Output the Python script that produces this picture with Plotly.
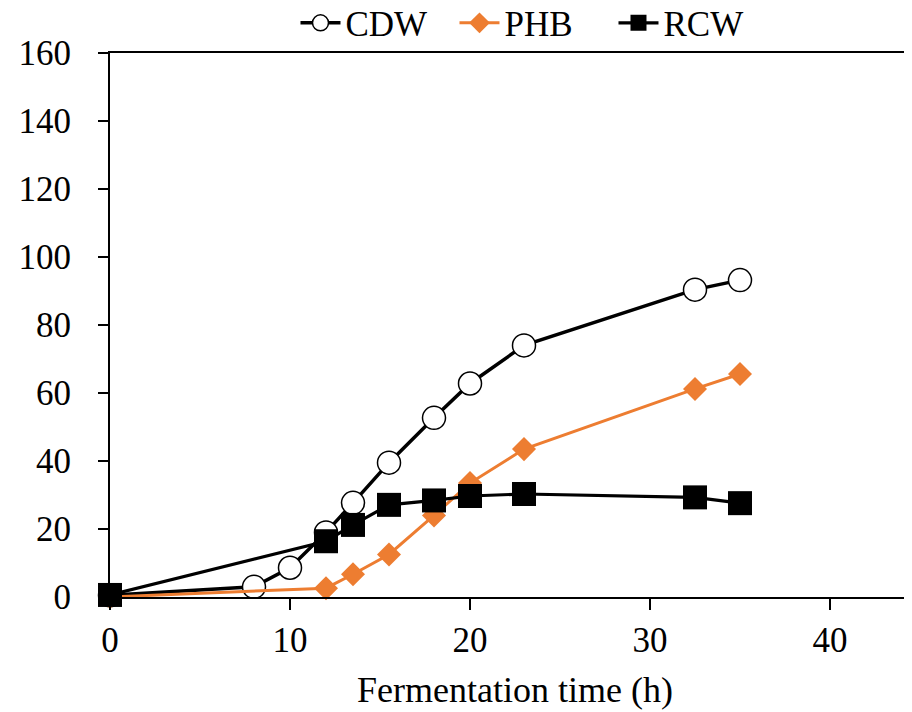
import plotly.graph_objects as go

time_cdw = [0, 8, 10, 12, 13.5, 15.5, 18, 20, 23, 32.5, 35]
cdw = [0.5, 3.0, 8.6, 19.0, 27.7, 39.5, 52.7, 62.8, 74.0, 90.4, 93.2]

time_phb = [0, 12, 13.5, 15.5, 18, 20, 23, 32.5, 35]
phb = [0.0, 2.6, 6.7, 12.5, 24.0, 33.5, 43.5, 61.2, 65.6]

time_rcw = [0, 12, 13.5, 15.5, 18, 20, 23, 32.5, 35]
rcw = [0.6, 16.4, 21.2, 27.1, 28.4, 29.7, 30.3, 29.3, 27.6]

x_ticks = [0, 10, 20, 30, 40]
y_ticks = [0, 20, 40, 60, 80, 100, 120, 140, 160]

ORANGE = "#ED7D31"
FONT = "Liberation Serif"

fig = go.Figure()
fig.add_trace(go.Scatter(
    x=time_cdw, y=cdw, name="CDW", mode="lines+markers",
    line=dict(color="black", width=3.5),
    marker=dict(symbol="circle", size=23, color="white", line=dict(color="black", width=1.5)),
    cliponaxis=False,
))
fig.add_trace(go.Scatter(
    x=time_phb, y=phb, name="PHB", mode="lines+markers",
    line=dict(color=ORANGE, width=3),
    marker=dict(symbol="diamond", size=18.5, color=ORANGE, line=dict(width=0)),
    cliponaxis=False,
))
fig.add_trace(go.Scatter(
    x=time_rcw, y=rcw, name="RCW", mode="lines+markers",
    line=dict(color="black", width=3.2),
    marker=dict(symbol="square", size=24, color="black", line=dict(width=0)),
    cliponaxis=False,
))

fig.update_layout(
    width=912, height=712,
    margin=dict(l=102, r=0, t=45, b=123, autoexpand=False),
    paper_bgcolor="white", plot_bgcolor="white",
    font=dict(family=FONT, size=35, color="black"),
    showlegend=True,
    legend=dict(orientation="h", x=0.229, y=1.055, xanchor="left", yanchor="middle",
                font=dict(family=FONT, size=35), itemwidth=40, traceorder="normal",
                entrywidth=104, entrywidthmode="pixels",
                bgcolor="rgba(0,0,0,0)"),
    xaxis=dict(
        range=[0, 45], tickvals=x_ticks, ticktext=[str(v) for v in x_ticks],
        showgrid=False, zeroline=False, showline=True, linecolor="black", linewidth=2,
        mirror=True, ticks="outside", ticklen=11, tickwidth=2, tickcolor="black",
        ticklabelstandoff=0, automargin=False,
        tickfont=dict(family=FONT, size=35, color="black"),
        title=dict(text="Fermentation time (h)", font=dict(family=FONT, size=36), standoff=18),
    ),
    yaxis=dict(
        range=[0, 160], tickvals=y_ticks, ticktext=[str(v) for v in y_ticks],
        showgrid=False, zeroline=False, showline=True, linecolor="black", linewidth=2,
        ticks="outside", ticklen=10, tickwidth=2, tickcolor="black",
        ticklabelstandoff=20, automargin=False,
        tickfont=dict(family=FONT, size=35, color="black"),
    ),
)

fig.write_html("out.html")
